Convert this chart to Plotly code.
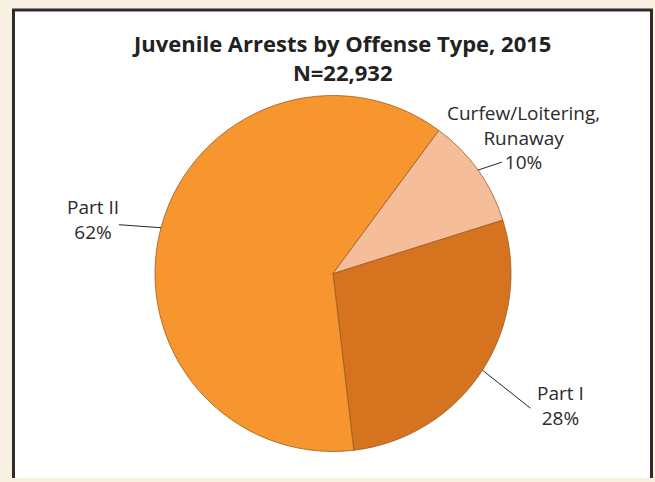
import math
import plotly.graph_objects as go

# Arrest shares by offense type (clockwise from the Part I slice)
categories = ["Part I", "Part II", "Curfew/Loitering,<br>Runaway"]
shares = [28, 62, 10]
slice_colors = ["#D6731F", "#F7962E", "#F6BD9B"]
title_lines = ["Juvenile Arrests by Offense Type, 2015", "N=22,932"]

W, H = 655, 482
CX, CY, R = 333, 273.5, 178      # pie centre / radius in pixels
ROTATION = 72.5                  # first slice start, degrees clockwise from 12 o'clock
FONT = "Open Sans, Lato, sans-serif"

def px(x):
    return x / W

def py(y):
    return 1 - y / H

fig = go.Figure(go.Pie(
    labels=categories,
    values=shares,
    sort=False,
    direction="clockwise",
    rotation=ROTATION,
    textinfo="none",
    hoverinfo="label+percent",
    marker=dict(colors=slice_colors, line=dict(color="#9a5a22", width=0.8)),
    domain=dict(x=[px(CX - R), px(CX + R)], y=[py(CY + R), py(CY - R)]),
    showlegend=False,
))

# Leader line geometry and label placement, one entry per slice:
# (elbow offset from edge point in px, label centre offset from edge point in px)
label_layout = {
    "Part I": ((48, 38), (78, 35)),
    "Part II": ((-42, -3), (-68, -8)),
    "Curfew/Loitering,<br>Runaway": ((24, -8), (46, -33)),
}

shapes = [
    # white card with dark frame on top/left/right
    dict(type="rect", xref="paper", yref="paper", x0=px(13), x1=px(651.5), y0=py(478), y1=py(10),
         fillcolor="white", line=dict(width=0), layer="below"),
    dict(type="line", xref="paper", yref="paper", x0=px(13.5), x1=px(13.5), y0=py(478), y1=py(10),
         line=dict(color="#2f2b2b", width=3), layer="below"),
    dict(type="line", xref="paper", yref="paper", x0=px(12), x1=px(653), y0=py(10), y1=py(10),
         line=dict(color="#2f2b2b", width=3), layer="below"),
    dict(type="line", xref="paper", yref="paper", x0=px(651.5), x1=px(651.5), y0=py(478), y1=py(10),
         line=dict(color="#2f2b2b", width=3), layer="below"),
]
annotations = []

total = sum(shares)
start = ROTATION
for name, val in zip(categories, shares):
    span = 360 * val / total
    mid = math.radians(start + span / 2)
    start += span
    ex = CX + R * math.sin(mid)
    ey = CY - R * math.cos(mid)
    (bx, by), (tx, ty) = label_layout[name]
    shapes.append(dict(type="line", xref="paper", yref="paper",
                       x0=px(ex), y0=py(ey), x1=px(ex + bx), y1=py(ey + by),
                       line=dict(color="#262626", width=1)))
    annotations.append(dict(
        x=px(ex + tx), y=py(ey + ty), xref="paper", yref="paper",
        text=f"{name}<br>{val}%", showarrow=False, align="center",
        xanchor="center", yanchor="middle",
        font=dict(family=FONT, size=19, color="#2b2b2b"),
    ))

annotations.append(dict(
    x=px(341), y=py(57), xref="paper", yref="paper",
    text="<br>".join(f"<b>{t}</b>" for t in title_lines), showarrow=False,
    xanchor="center", yanchor="middle", align="center",
    font=dict(family=FONT, size=22, color="#222222"),
))

fig.update_layout(
    width=W, height=H,
    margin=dict(l=0, r=0, t=0, b=0),
    paper_bgcolor="#F8F1E1",
    plot_bgcolor="#F8F1E1",
    shapes=shapes,
    annotations=annotations,
)

fig.write_html("out.html")
